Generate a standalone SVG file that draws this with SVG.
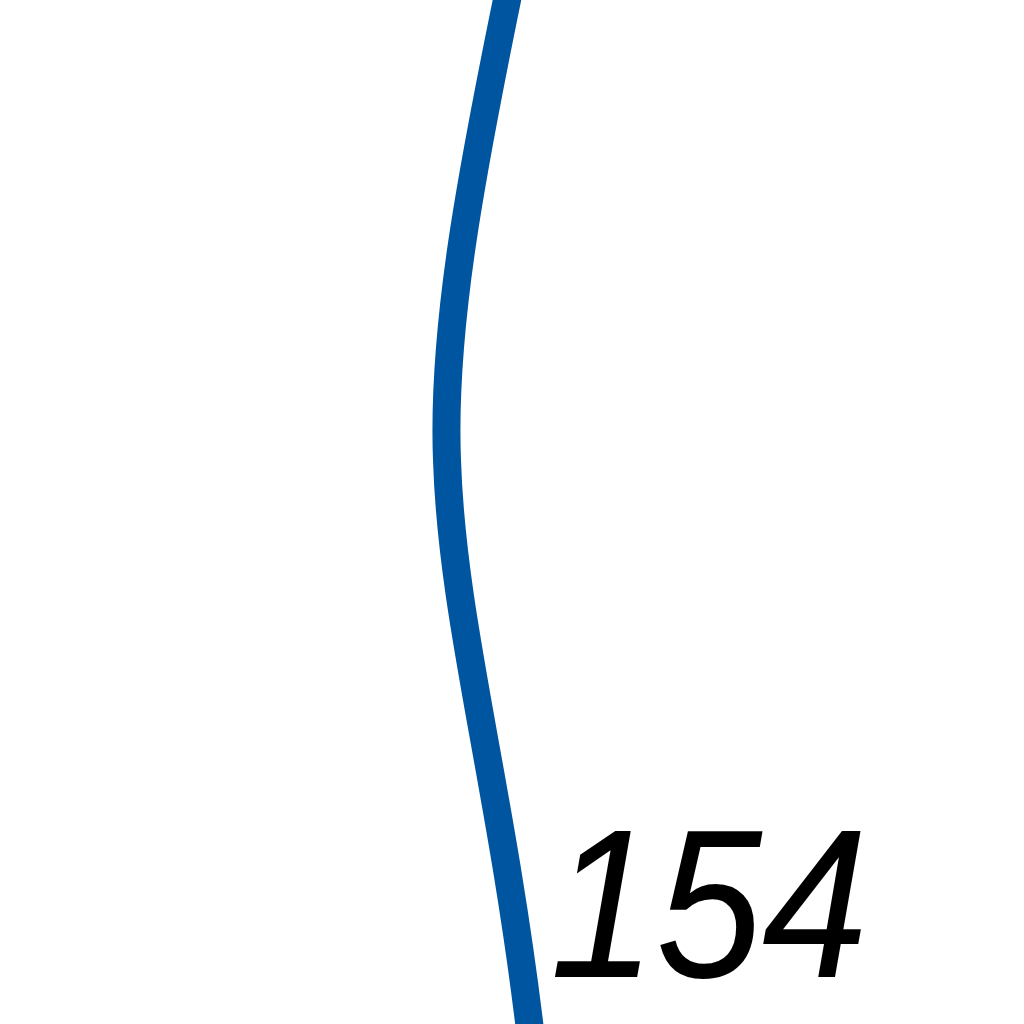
<svg xmlns="http://www.w3.org/2000/svg" width="1024" height="1024" viewBox="0 0 1024 1024">
<style>
.curve{fill:none;stroke:#0055A0;stroke-width:28}
.lbl{font-family:"Liberation Sans",Arial,sans-serif;font-style:italic;font-size:212px;fill:#000}
</style>
<rect width="1024" height="1024" fill="#fff"/>
<g id="connectors">
<path class="curve" d="M508,-5 C470,180 442,330 447,460 C452,620 500,780 530,1030"/>
</g>
<g id="label">
<text class="lbl" x="550" y="977" textLength="318" lengthAdjust="spacingAndGlyphs">154</text>
</g>
</svg>
